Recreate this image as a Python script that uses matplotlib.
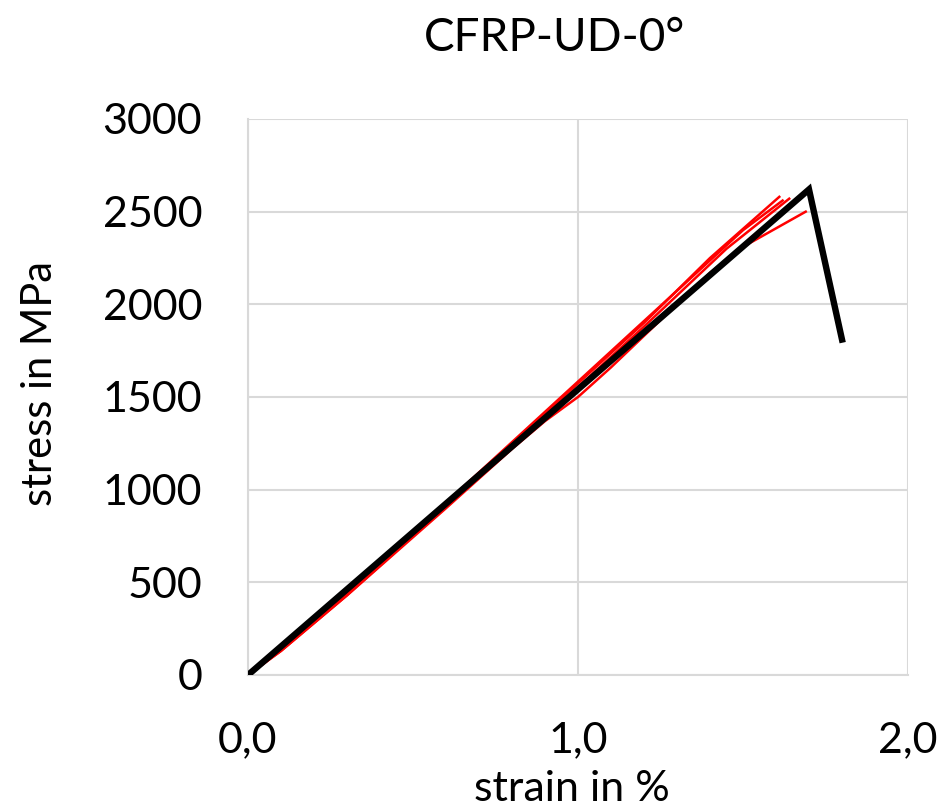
import matplotlib
matplotlib.use("Agg")
import matplotlib.pyplot as plt
from matplotlib.ticker import FuncFormatter

plt.rcParams['font.family'] = ['Lato', 'DejaVu Sans']

# Data
black_x = [0.0, 1.70, 1.80]
black_y = [0, 2620, 1810]

red1_x = [0.0, 0.1, 0.3, 0.6, 0.9, 1.2, 1.4, 1.61]
red1_y = [0, 140, 440, 920, 1410, 1900, 2250, 2580]
red2_x = [0.0, 0.1, 0.3, 0.6, 0.9, 1.2, 1.45, 1.64]
red2_y = [0, 130, 430, 910, 1390, 1880, 2300, 2570]
red3_x = [0.0, 0.1, 0.3, 0.6, 0.8, 0.9, 1.0, 1.1, 1.2, 1.4, 1.5, 1.69]
red3_y = [0, 130, 430, 900, 1220, 1370, 1500, 1660, 1830, 2170, 2310, 2500]
red4_x = [0.0, 0.1, 0.3, 0.6, 0.9, 1.2, 1.5, 1.62]
red4_y = [0, 140, 450, 930, 1420, 1910, 2400, 2560]

xticks = [0.0, 1.0, 2.0]
yticks = [0, 500, 1000, 1500, 2000, 2500, 3000]

fig = plt.figure(figsize=(9.45, 8.11), dpi=100)
ax = fig.add_axes([248/945, 1-675/811, (908-248)/945, (675-119)/811])

for rx, ry in [(red1_x, red1_y), (red2_x, red2_y), (red3_x, red3_y), (red4_x, red4_y)]:
    ax.plot(rx, ry, color='#ff0000', lw=1.8, zorder=3)
ax.plot(black_x, black_y, color='black', lw=4.6, zorder=4, solid_joinstyle='miter')

ax.set_xlim(0, 2.0)
ax.set_ylim(0, 3000)
ax.set_xticks(xticks)
ax.set_yticks(yticks)
ax.xaxis.set_major_formatter(FuncFormatter(lambda v, p: f"{v:.1f}".replace('.', ',')))
ax.grid(True, color='#d9d9d9', lw=1.5, zorder=0)
for s in ['top', 'right']:
    ax.spines[s].set_visible(False)
for s in ['left', 'bottom']:
    ax.spines[s].set_color('#d9d9d9')
    ax.spines[s].set_linewidth(1.5)
ax.tick_params(length=0, labelsize=31)
ax.tick_params(axis='y', pad=33)
ax.tick_params(axis='x', pad=33)

fig.text(555/945, 1-38/811, 'CFRP-UD-0°', ha='center', va='center', fontsize=33)
fig.text(572/945, 1-789/811, 'strain in %', ha='center', va='center', fontsize=31)
fig.text(40/945, 1-383/811, 'stress in MPa', ha='center', va='center', fontsize=30, rotation=90)

fig.savefig('out.png', dpi=100)
